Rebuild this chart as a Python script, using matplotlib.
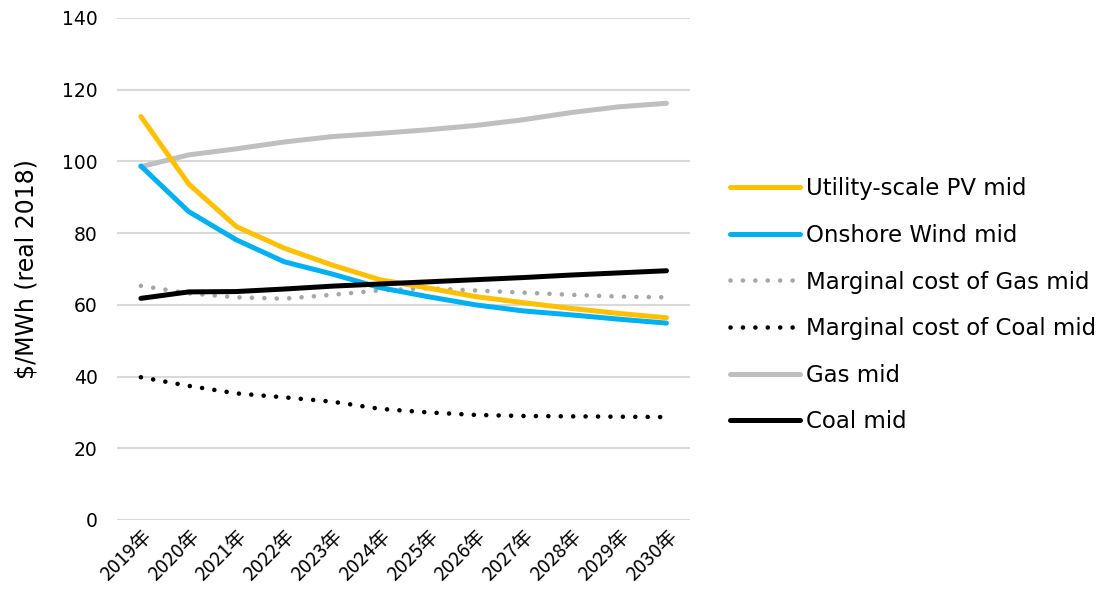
import matplotlib
matplotlib.use('Agg')
import matplotlib.pyplot as plt

years = ['2019年', '2020年', '2021年', '2022年', '2023年', '2024年',
         '2025年', '2026年', '2027年', '2028年', '2029年', '2030年']

pv_mid = [112.5, 93.7, 81.8, 75.8, 71.1, 67.0, 64.7, 62.3, 60.6, 59.0, 57.6, 56.4]
wind_mid = [98.7, 86.0, 78.1, 72.0, 68.6, 64.8, 62.3, 60.0, 58.3, 57.2, 56.0, 54.9]
marg_gas_mid = [65.3, 63.2, 62.1, 61.7, 62.8, 64.0, 64.6, 64.0, 63.4, 62.8, 62.3, 62.1]
marg_coal_mid = [39.8, 37.4, 35.3, 34.2, 33.0, 31.0, 30.0, 29.3, 29.0, 28.9, 28.8, 28.7]
gas_mid = [98.5, 101.8, 103.5, 105.4, 106.9, 107.8, 108.8, 110.0, 111.6, 113.6, 115.2, 116.2]
coal_mid = [61.8, 63.6, 63.7, 64.4, 65.2, 65.8, 66.4, 67.0, 67.6, 68.3, 68.9, 69.5]

y_ticks = [0, 20, 40, 60, 80, 100, 120, 140]

fig = plt.figure(figsize=(11.09, 5.97), dpi=100)
ax = fig.add_axes([0.1055, 0.129, 0.517, 0.841])

x = list(range(len(years)))
lw = 3.6
dot = dict(linewidth=3.3, linestyle=(0, (0.01, 2.7)), dash_capstyle='round')

l_gas, = ax.plot(x, gas_mid, color='#BFBFBF', lw=lw, solid_capstyle='round', zorder=3)
l_mgas, = ax.plot(x, marg_gas_mid, color='#A6A6A6', zorder=3, **dot)
l_mcoal, = ax.plot(x, marg_coal_mid, color='#000000', zorder=3, **dot)
l_wind, = ax.plot(x, wind_mid, color='#00B0F0', lw=lw, solid_capstyle='round', zorder=4)
l_pv, = ax.plot(x, pv_mid, color='#FFC000', lw=lw, solid_capstyle='round', zorder=5)
l_coal, = ax.plot(x, coal_mid, color='#000000', lw=lw, solid_capstyle='round', zorder=6)

ax.set_xlim(-0.5, len(years) - 0.5)
ax.set_ylim(0, 140)
ax.set_yticks(y_ticks)
ax.yaxis.grid(True, color='#D9D9D9', linewidth=1.5)
ax.set_axisbelow(True)
for s in ax.spines.values():
    s.set_visible(False)
ax.tick_params(axis='both', length=0)
ax.tick_params(axis='y', labelsize=13.5, pad=14, labelcolor='#000000')

ax.set_xticks(x)
ax.set_xticklabels(years, rotation=45, ha='right', rotation_mode='anchor',
                   fontsize=14, family=['Noto Sans CJK JP', 'DejaVu Sans'])
ax.tick_params(axis='x', pad=4)

ax.set_ylabel(r'\$/MWh (real 2018)', fontsize=17, labelpad=17)

fig.legend([l_pv, l_wind, l_mgas, l_mcoal, l_gas, l_coal],
           ['Utility-scale PV mid', 'Onshore Wind mid', 'Marginal cost of Gas mid',
            'Marginal cost of Coal mid', 'Gas mid', 'Coal mid'],
           loc='upper left', bbox_to_anchor=(0.658, 0.703), frameon=False,
           fontsize=16.5, handlelength=3.05, handletextpad=0.3, labelspacing=1.03,
           borderpad=0, borderaxespad=0)

fig.savefig('out.png', dpi=100)
